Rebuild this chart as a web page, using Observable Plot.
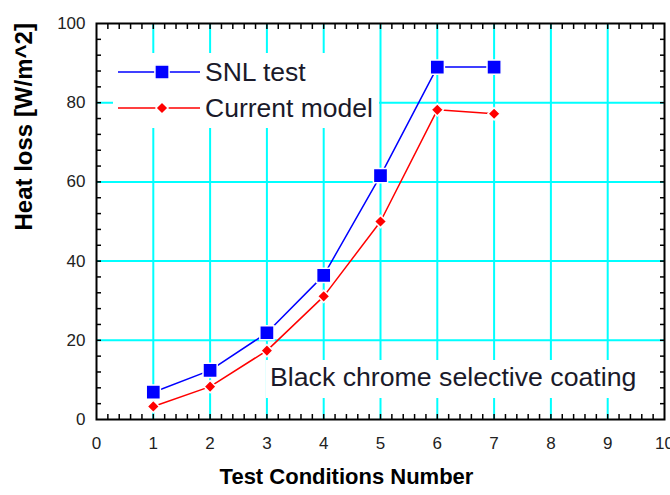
<!DOCTYPE html>
<html><head><meta charset="utf-8">
<script src="https://cdn.jsdelivr.net/npm/d3@7"></script>
<script src="https://cdn.jsdelivr.net/npm/@observablehq/plot@0.6"></script>
<style>body{margin:0;background:#fff;}</style>
</head><body><div id="chart"></div>
<script>
// ---- data ----
const conditions = [1, 2, 3, 4, 5, 6, 7];
const snlTest = [6.9, 12.4, 21.9, 36.4, 61.6, 89.0, 89.0];
const currentModel = [3.3, 8.3, 17.4, 31.1, 50.0, 78.2, 77.2];
const seriesNames = ["SNL test", "Current model"];
const seriesColors = ["#0000ff", "#ff0000"];
const xTicks = [0, 1, 2, 3, 4, 5, 6, 7, 8, 9, 10];
const yTicks = [0, 20, 40, 60, 80, 100];
const xGrid = [1, 2, 3, 4, 5, 6, 7, 8, 9];
const yGrid = [20, 40, 60, 80];
const xMinor = d3.range(1, 50).map(i => i / 5);
const yMinor = d3.range(1, 25).map(i => i * 4);
const xLabel = "Test Conditions Number";
const yLabel = "Heat loss [W/m^2]";
const note = "Black chrome selective coating";

const snlRows = conditions.map((c, i) => ({x: c, y: snlTest[i]}));
const modelRows = conditions.map((c, i) => ({x: c, y: currentModel[i]}));

const FONT = "'Liberation Sans', Arial, Helvetica, sans-serif";
const CYAN = "#00ffff";

const chart = Plot.plot({
  width: 670, height: 495,
  marginLeft: 96, marginRight: 6, marginTop: 23, marginBottom: 76,
  style: {fontFamily: FONT, fontSize: "17px", color: "#222", background: "#fff"},
  x: {domain: [0, 10]},
  y: {domain: [0, 100]},
  marks: [
    Plot.ruleX(xGrid, {stroke: CYAN, strokeWidth: 2}),
    Plot.ruleY(yGrid, {stroke: CYAN, strokeWidth: 2}),
    Plot.axisX({anchor: "bottom", ticks: xMinor, tickSize: 5, dy: -5, fill: "none", label: null, stroke: "#000", strokeWidth: 1.5}),
    Plot.axisX({anchor: "top", ticks: xMinor, tickSize: 5, dy: 5, fill: "none", label: null, stroke: "#000", strokeWidth: 1.5}),
    Plot.axisY({anchor: "left", ticks: yMinor, tickSize: 5, dx: 5, fill: "none", label: null, stroke: "#000", strokeWidth: 1.5}),
    Plot.axisY({anchor: "right", ticks: yMinor, tickSize: 5, dx: -5, fill: "none", label: null, stroke: "#000", strokeWidth: 1.5}),
    Plot.axisX({anchor: "bottom", ticks: xTicks, tickSize: 0, tickPadding: 17, label: null, fill: "#222", fontSize: 17}),
    Plot.axisY({anchor: "left", ticks: yTicks, tickSize: 0, tickPadding: 11, label: null, fill: "#222", fontSize: 17}),
    Plot.line(snlRows, {x: "x", y: "y", stroke: seriesColors[0], strokeWidth: 1.5}),
    Plot.line(modelRows, {x: "x", y: "y", stroke: seriesColors[1], strokeWidth: 1.5}),
    Plot.dot(snlRows, {x: "x", y: "y", symbol: "square", r: 8, fill: seriesColors[0], stroke: "#fff", strokeWidth: 1.5}),
    Plot.dot(modelRows, {x: "x", y: "y", symbol: "diamond2", r: 5.5, fill: seriesColors[1], stroke: "#fff", strokeWidth: 1.5}),
    Plot.frame({stroke: "#000", strokeWidth: 2}),
    Plot.text([xLabel], {text: d => d, frameAnchor: "bottom", dx: -34, dy: 64, fontSize: 22, fontWeight: "bold", fill: "#000"}),
    Plot.text([yLabel], {text: d => d, frameAnchor: "left", dx: -72, dy: 9, rotate: -90, fontSize: 24, fontWeight: "bold", fill: "#000"})
  ]
});
document.getElementById("chart").appendChild(chart);

// ---- legend and annotation (white boxes over the grid) ----
const svg = d3.select(chart);
const g = svg.append("g").attr("font-family", FONT).attr("text-anchor", "start");
g.append("rect").attr("x", 113).attr("y", 53).attr("width", 266).attr("height", 75)
  .style("fill", "#ffffff").style("fill-opacity", 1).style("stroke", "none");
g.append("rect").attr("x", 266).attr("y", 360).attr("width", 375).attr("height", 38)
  .style("fill", "#ffffff").style("fill-opacity", 1).style("stroke", "none");

const legendY = [72, 108];
seriesNames.forEach((name, i) => {
  const y = legendY[i];
  g.append("line").attr("x1", 118).attr("x2", 200).attr("y1", y).attr("y2", y)
    .style("stroke", seriesColors[i]).style("stroke-width", 1.5);
  const sym = i === 0 ? d3.symbolSquare : d3.symbolDiamond2;
  const size = i === 0 ? Math.PI * 64 : Math.PI * 5.5 * 5.5;
  g.append("path").attr("d", d3.symbol(sym, size)()).attr("transform", `translate(162,${y})`)
    .style("fill", seriesColors[i]).style("stroke", "#fff").style("stroke-width", 1.5);
  g.append("text").attr("x", 205).attr("y", y + 9).attr("text-anchor", "start")
    .style("font-size", "26.5px").style("fill", "#1a1a2a").text(name);
});
g.append("text").attr("x", 270).attr("y", 386).attr("text-anchor", "start")
  .style("font-size", "26.7px").style("fill", "#1a1a2a").text(note);
</script>
</body></html>
